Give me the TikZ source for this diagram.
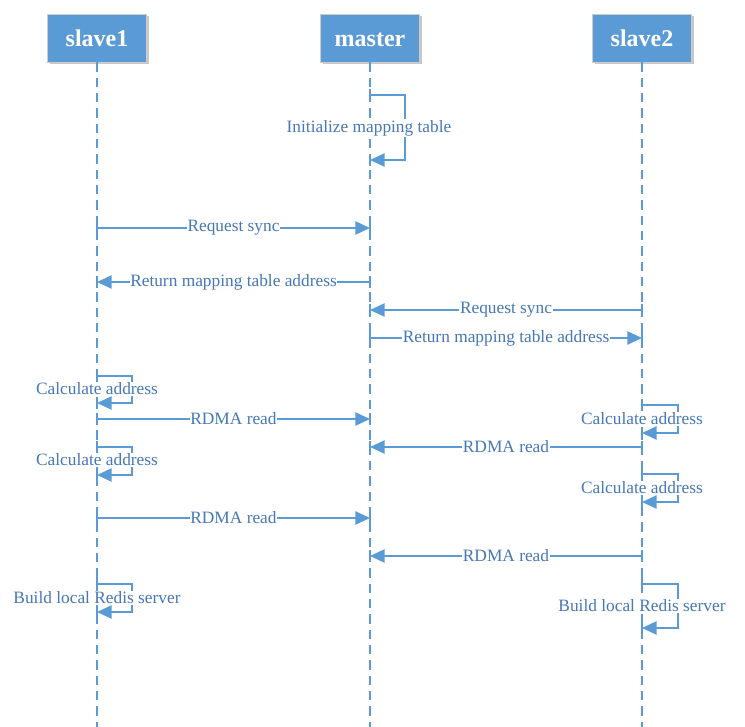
\documentclass[tikz,border=0pt]{standalone}
\usepackage{fontspec}
\setmainfont{Liberation Serif}
\usetikzlibrary{arrows.meta,shadows}
\definecolor{ln}{HTML}{5B9BD5}
\definecolor{tx}{HTML}{4678B4}
\begin{document}
\begin{tikzpicture}[x=0.75pt,y=-0.75pt,
  hdr/.style={fill=ln,draw=black!20,line width=0.6pt,text=white,font=\fontsize{18}{20}\selectfont\bfseries,
    minimum width=74.25pt,minimum height=36pt,inner sep=0pt,text height=15pt,text depth=1.5pt,
    drop shadow={shadow xshift=1.5pt,shadow yshift=-1.5pt,fill=black!22,opacity=1}},
  life/.style={draw=ln,line width=1.1pt,dash pattern=on 7pt off 4.5pt},
  msg/.style={draw=ln,line width=1.1pt,-{Triangle[length=11pt,width=10pt]}},
  lbl/.style={fill=white,text=tx,font=\fontsize{13}{15}\selectfont,inner sep=0.5pt},
  tk/.pic={\draw[ln,line width=1.1pt] (0,-6) -- (0,6);}
]
\useasboundingbox (0,0) rectangle (745,727);
% headers
\node[hdr] (s1) at (97,38) {slave1};
\node[hdr] (m) at (370,38) {master};
\node[hdr] (s2) at (642,38) {slave2};
% lifelines
\coordinate (s1e) at (97,727);
\coordinate (me) at (370,727);
\coordinate (s2e) at (642,727);
\draw[life] (s1.south) -- (s1e);
\draw[life] (m.south) -- (me);
\draw[life] (s2.south) -- (s2e);

% Initialize mapping table (master self)
\coordinate (i1) at (370,95);
\coordinate (i2) at (370,160);
\draw[msg] (i1) -- ++(35,0) |- (i2);
\pic at (i1) {tk}; \pic at (i2) {tk};
\node[lbl] (il) at (369,128) {Initialize mapping table};

% Request sync slave1 -> master
\coordinate (r1a) at (97,228); \coordinate (r1b) at (370,228);
\draw[msg] (r1a) -- node[lbl] (r1l) {Request sync} (r1b);
\pic at (r1a) {tk}; \pic at (r1b) {tk};

% Return mapping table address master -> slave1
\coordinate (t1a) at (370,282); \coordinate (t1b) at (97,282);
\draw[msg] (t1a) -- node[lbl] (t1l) {Return mapping table address} (t1b);
\pic at (t1a) {tk}; \pic at (t1b) {tk};

% Request sync slave2 -> master
\coordinate (r2a) at (642,310); \coordinate (r2b) at (370,310);
\draw[msg] (r2a) -- node[lbl] (r2l) {Request sync} (r2b);
\pic at (r2a) {tk}; \pic at (r2b) {tk};

% Return mapping table address master -> slave2
\coordinate (t2a) at (370,338); \coordinate (t2b) at (642,338);
\draw[msg] (t2a) -- node[lbl] (t2l) {Return mapping table address} (t2b);
\pic at (t2a) {tk}; \pic at (t2b) {tk};

% slave1 calculate address 1
\coordinate (c1a) at (97,376); \coordinate (c1b) at (97,403);
\draw[msg] (c1a) -- ++(35,0) |- (c1b);
\pic at (c1a) {tk}; \pic at (c1b) {tk};
\node[lbl] (c1l) at (97,389) {Calculate address};

% RDMA read slave1 -> master
\coordinate (d1a) at (97,419); \coordinate (d1b) at (370,419);
\draw[msg] (d1a) -- node[lbl] (d1l) {RDMA read} (d1b);
\pic at (d1a) {tk}; \pic at (d1b) {tk};

% slave2 calculate address 1
\coordinate (c2a) at (642,405); \coordinate (c2b) at (642,433);
\draw[msg] (c2a) -- ++(36,0) |- (c2b);
\pic at (c2a) {tk}; \pic at (c2b) {tk};
\node[lbl] (c2l) at (642,419) {Calculate address};

% RDMA read slave2 -> master
\coordinate (d2a) at (642,447); \coordinate (d2b) at (370,447);
\draw[msg] (d2a) -- node[lbl] (d2l) {RDMA read} (d2b);
\pic at (d2a) {tk}; \pic at (d2b) {tk};

% slave1 calculate address 2
\coordinate (c3a) at (97,447); \coordinate (c3b) at (97,475);
\draw[msg] (c3a) -- ++(35,0) |- (c3b);
\pic at (c3a) {tk}; \pic at (c3b) {tk};
\node[lbl] (c3l) at (97,460) {Calculate address};

% slave2 calculate address 2
\coordinate (c4a) at (642,474); \coordinate (c4b) at (642,502);
\draw[msg] (c4a) -- ++(36,0) |- (c4b);
\pic at (c4a) {tk}; \pic at (c4b) {tk};
\node[lbl] (c4l) at (642,488) {Calculate address};

% RDMA read slave1 -> master
\coordinate (d3a) at (97,518); \coordinate (d3b) at (370,518);
\draw[msg] (d3a) -- node[lbl] (d3l) {RDMA read} (d3b);
\pic at (d3a) {tk}; \pic at (d3b) {tk};

% RDMA read slave2 -> master
\coordinate (d4a) at (642,556); \coordinate (d4b) at (370,556);
\draw[msg] (d4a) -- node[lbl] (d4l) {RDMA read} (d4b);
\pic at (d4a) {tk}; \pic at (d4b) {tk};

% slave1 build
\coordinate (b1a) at (97,584); \coordinate (b1b) at (97,612);
\draw[msg] (b1a) -- ++(35,0) |- (b1b);
\pic at (b1a) {tk}; \pic at (b1b) {tk};
\node[lbl] (b1l) at (97,598) {Build local Redis server};

% slave2 build
\coordinate (b2a) at (642,584); \coordinate (b2b) at (642,628);
\draw[msg] (b2a) -- ++(36,0) |- (b2b);
\pic at (b2a) {tk}; \pic at (b2b) {tk};
\node[lbl] (b2l) at (642,606) {Build local Redis server};
\end{tikzpicture}
\end{document}
